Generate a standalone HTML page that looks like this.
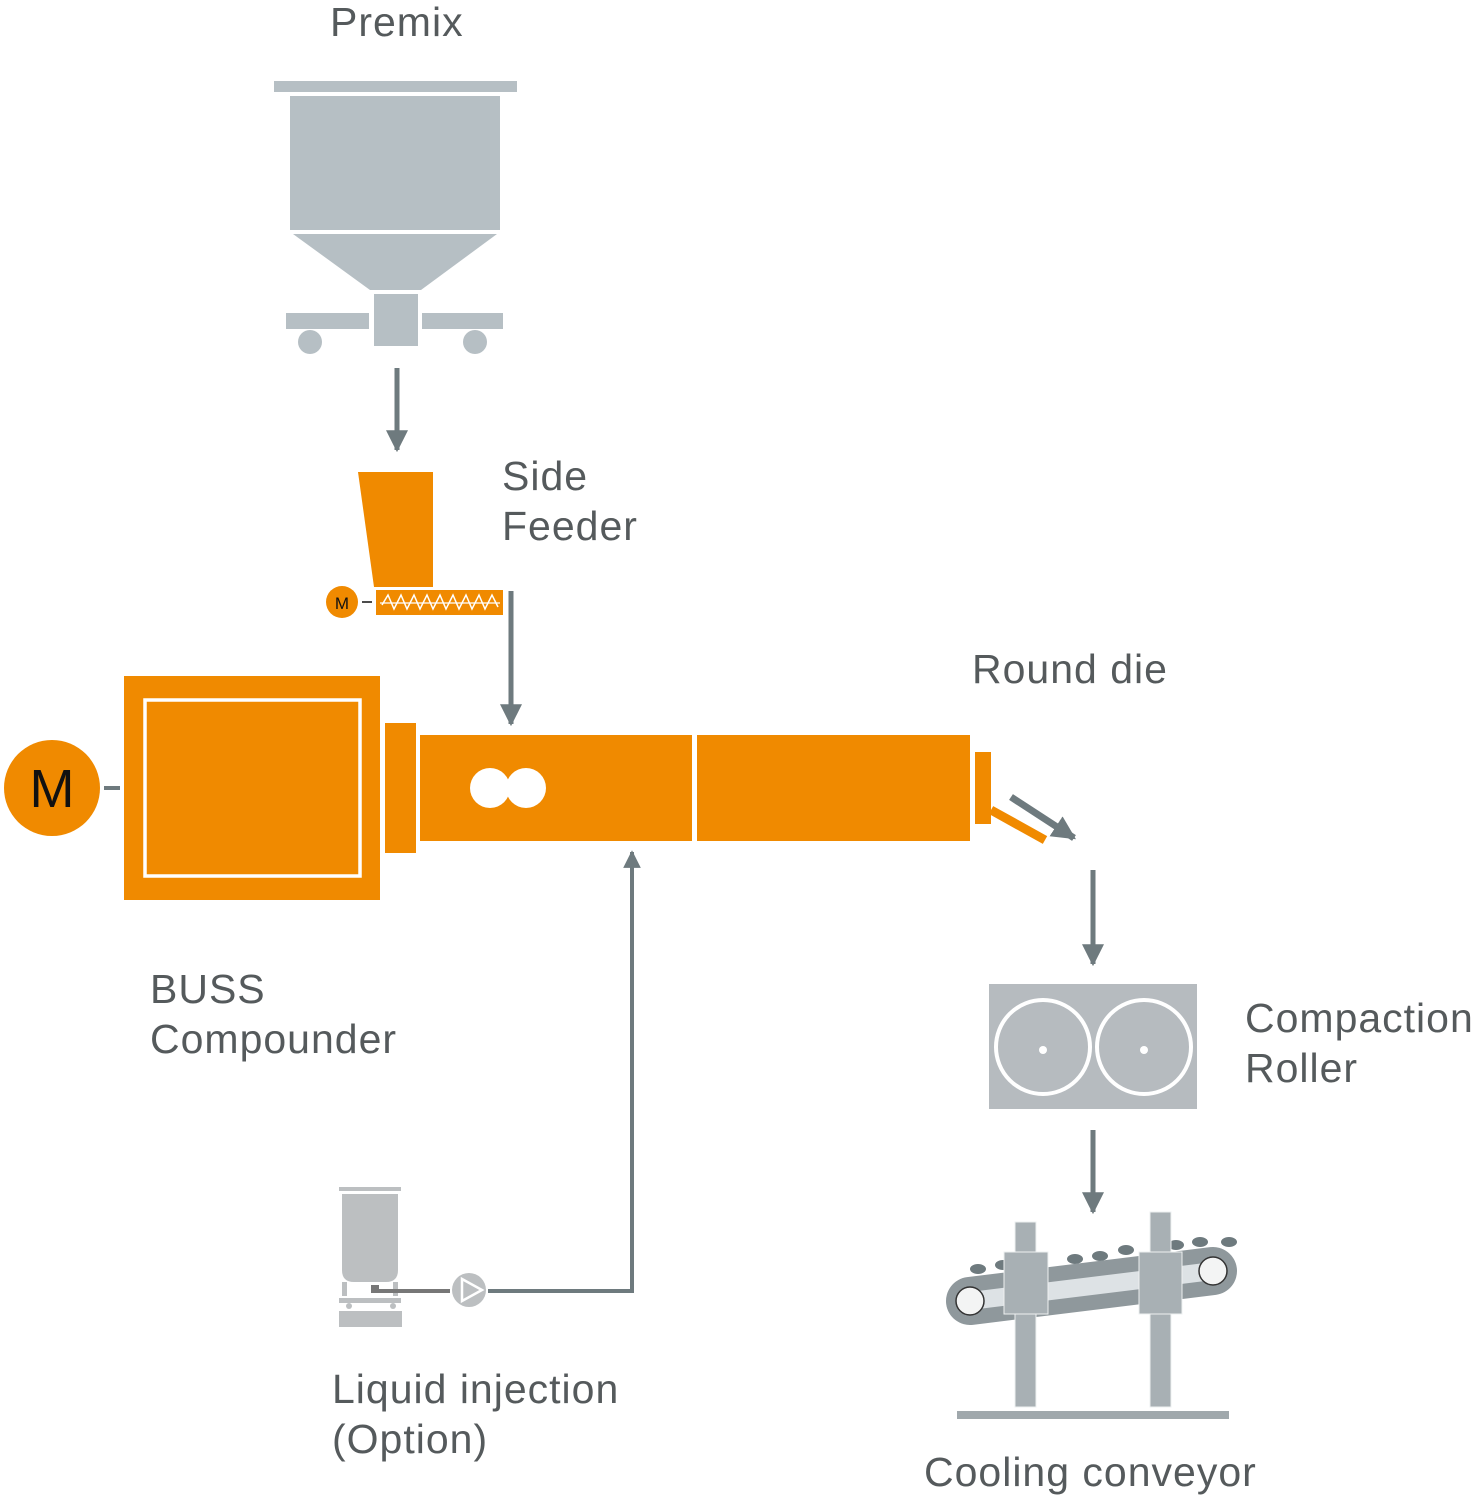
<!DOCTYPE html>
<html><head><style>html,body{margin:0;padding:0;background:#fff;}svg{display:block}
text{font-family:"Liberation Sans",sans-serif;fill:#555a5c;font-size:41px;letter-spacing:1px}</style></head>
<body>
<svg width="1475" height="1501" viewBox="0 0 1475 1501" xmlns="http://www.w3.org/2000/svg">
<defs>
<marker id="ah" viewBox="0 0 10 10" refX="9" refY="5" markerWidth="4.4" markerHeight="4.4" orient="auto" markerUnits="strokeWidth"><path d="M0,0L10,5L0,10z" fill="#6e7a7e"/></marker>
<marker id="ah2" viewBox="0 0 10 10" refX="9" refY="5" markerWidth="3.4" markerHeight="3.4" orient="auto" markerUnits="strokeWidth"><path d="M0,0L10,5L0,10z" fill="#6e7a7e"/></marker>
</defs>
<!-- texts -->
<text x="330" y="36">Premix</text>
<text x="502" y="490">Side</text>
<text x="502" y="540">Feeder</text>
<text x="972" y="683">Round die</text>
<text x="150" y="1003">BUSS</text>
<text x="150" y="1053">Compounder</text>
<text x="1245" y="1032">Compaction</text>
<text x="1245" y="1082">Roller</text>
<text x="332" y="1403">Liquid injection</text>
<text x="332" y="1453">(Option)</text>
<text x="924" y="1486">Cooling conveyor</text>

<!-- hopper -->
<g fill="#b6bfc4">
<rect x="274" y="81" width="243" height="11"/>
<rect x="290" y="96" width="210" height="134"/>
<polygon points="293,234 497,234 421,290 370,290"/>
<rect x="374" y="294" width="44" height="52"/>
<rect x="286" y="313" width="83" height="16"/>
<rect x="422" y="313" width="81" height="16"/>
<circle cx="310" cy="342" r="12"/>
<circle cx="475" cy="342" r="12"/>
</g>
<line x1="397" y1="368" x2="397" y2="450" stroke="#6e7a7e" stroke-width="5" marker-end="url(#ah)"/>

<!-- side feeder -->
<polygon points="358,472 433,472 433,587 374,587" fill="#f08a00"/>
<rect x="376" y="590" width="127" height="25" fill="#f08a00"/>
<polyline points="382,605 388,595 394,609 401,595 407,609 414,595 420,609 427,595 433,609 440,595 446,609 453,595 459,609 466,595 472,609 479,595 485,609 492,595 498,607" fill="none" stroke="#fff" stroke-width="1.5"/>
<line x1="380" y1="603" x2="500" y2="603" stroke="#fff" stroke-width="1.2"/>
<circle cx="342" cy="602" r="16" fill="#f08a00"/>
<text x="342" y="609" text-anchor="middle" style="fill:#111;font-size:17px;letter-spacing:0">M</text>
<line x1="362" y1="602" x2="372" y2="602" stroke="#111" stroke-width="1.5"/>
<line x1="511" y1="591" x2="511" y2="724" stroke="#6e7a7e" stroke-width="5" marker-end="url(#ah)"/>

<!-- compounder -->
<circle cx="52" cy="788" r="48" fill="#f08a00"/>
<text x="52" y="807" text-anchor="middle" style="fill:#111;font-size:54px;letter-spacing:0">M</text>
<rect x="104" y="786" width="16" height="4" fill="#6e7a7e"/>
<rect x="124" y="676" width="256" height="224" fill="#f08a00"/>
<rect x="145" y="700" width="215" height="176" fill="none" stroke="#fff" stroke-width="3.5"/>
<rect x="385" y="723" width="31" height="130" fill="#f08a00"/>
<rect x="420" y="735" width="272" height="106" fill="#f08a00"/>
<rect x="697" y="735" width="273" height="106" fill="#f08a00"/>
<circle cx="490" cy="788" r="20" fill="#fff"/>
<circle cx="526" cy="788" r="20" fill="#fff"/>
<rect x="975" y="752" width="16" height="72" fill="#f08a00"/>
<line x1="991" y1="810" x2="1045" y2="840" stroke="#f08a00" stroke-width="9"/>
<line x1="1011" y1="797" x2="1074" y2="838" stroke="#6e7a7e" stroke-width="7" marker-end="url(#ah2)"/>

<!-- roller -->
<line x1="1093" y1="870" x2="1093" y2="964" stroke="#6e7a7e" stroke-width="5" marker-end="url(#ah)"/>
<rect x="989" y="984" width="208" height="125" fill="#b6bbbf"/>
<circle cx="1043" cy="1047" r="47" fill="none" stroke="#fff" stroke-width="4"/>
<circle cx="1144" cy="1047" r="47" fill="none" stroke="#fff" stroke-width="4"/>
<circle cx="1043" cy="1050" r="4" fill="#fff"/>
<circle cx="1144" cy="1050" r="4" fill="#fff"/>
<line x1="1093" y1="1130" x2="1093" y2="1212" stroke="#6e7a7e" stroke-width="5" marker-end="url(#ah)"/>

<!-- conveyor -->
<g fill="#6e7a7e">
<ellipse cx="978" cy="1269" rx="8" ry="5"/><ellipse cx="1003" cy="1265" rx="8" ry="5"/>
<ellipse cx="1075" cy="1259" rx="8" ry="5"/><ellipse cx="1100" cy="1256" rx="8" ry="5"/>
<ellipse cx="1126" cy="1250" rx="8" ry="5"/><ellipse cx="1200" cy="1242" rx="8" ry="5"/>
<ellipse cx="1229" cy="1242" rx="8" ry="5"/><ellipse cx="1176" cy="1245" rx="8" ry="5"/>
</g>
<line x1="970" y1="1301" x2="1213" y2="1271" stroke="#8f989c" stroke-width="48" stroke-linecap="round"/>
<line x1="970" y1="1301" x2="1213" y2="1271" stroke="#dde2e5" stroke-width="18"/>
<circle cx="970" cy="1301" r="14" fill="#f3f4f4" stroke="#333" stroke-width="1.5"/>
<circle cx="1213" cy="1271" r="14" fill="#f3f4f4" stroke="#333" stroke-width="1.5"/>
<g fill="#a8b0b4" stroke="#eef0f1" stroke-width="1">
<rect x="1015" y="1222" width="21" height="185"/>
<rect x="1150" y="1212" width="21" height="195"/>
<rect x="1004" y="1252" width="44" height="62"/>
<rect x="1139" y="1252" width="43" height="62"/>
</g>
<rect x="957" y="1411" width="272" height="8" fill="#a0a8ac"/>

<!-- liquid injection -->
<g fill="#bcbfc1">
<rect x="339" y="1187" width="62" height="4"/>
<path d="M342,1194H398V1270Q398,1282 386,1282H354Q342,1282 342,1270Z"/>
<rect x="342" y="1282" width="5" height="14"/><rect x="393" y="1282" width="5" height="14"/>
<rect x="339" y="1298" width="62" height="5"/>
<circle cx="349" cy="1306" r="3"/><circle cx="393" cy="1306" r="3"/>
<rect x="339" y="1311" width="63" height="16"/>
</g>
<rect x="371" y="1285" width="8" height="8" fill="#777"/>
<rect x="371" y="1289" width="79" height="4" fill="#777"/>
<circle cx="469" cy="1290" r="17" fill="#bcbfc1"/>
<polygon points="462,1279 482,1290 462,1301" fill="none" stroke="#fff" stroke-width="2.5"/>
<polyline points="488,1291 632,1291 632,852" fill="none" stroke="#6e7a7e" stroke-width="4" marker-end="url(#ah)"/>
</svg>
</body></html>
